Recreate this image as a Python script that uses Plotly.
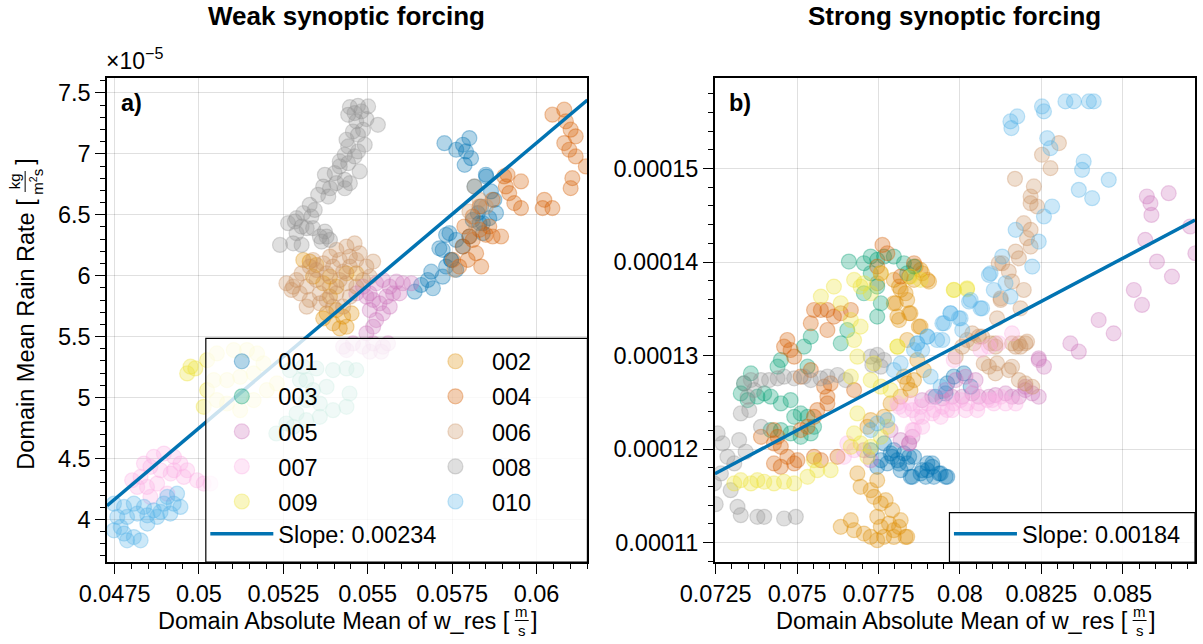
import plotly.graph_objects as go

# ---------------- Weak synoptic forcing ----------------
# w_res: domain absolute mean of w_res [m/s]; rain: domain mean rain rate [1e-5 kg m-2 s-1]
weak_001_w = [0.05727, 0.05762, 0.05782, 0.05801, 0.05806, 0.05787, 0.05791, 0.05639, 0.05658, 0.05678,
              0.05693, 0.05688, 0.05722, 0.05732, 0.05747, 0.05722, 0.05732, 0.05762, 0.05782, 0.05801,
              0.05811, 0.05841, 0.05826, 0.05816, 0.05851, 0.05850, 0.05875, 0.05880, 0.05860, 0.05831,
              0.05841, 0.05836, 0.05865, 0.05742, 0.05712, 0.05747, 0.05762]
weak_001_rain = [7.088, 7.034, 7.075, 7.130, 6.965, 6.910, 7.020, 5.869, 5.924, 5.965,
                 5.897, 6.033, 5.992, 6.075, 6.129, 6.212, 6.335, 6.294, 6.239, 6.321,
                 6.458, 6.431, 6.513, 6.732, 6.814, 6.829, 6.623, 6.514, 6.472, 6.431,
                 6.349, 6.568, 6.692, 6.349, 6.225, 6.130, 6.048]

weak_002_w = [0.05309, 0.05328, 0.05348, 0.05388, 0.05368, 0.05407, 0.05437, 0.05378, 0.05368, 0.05397,
              0.05417, 0.05437, 0.05452, 0.05407, 0.05427, 0.05388, 0.05338, 0.05466]
weak_002_rain = [6.129, 6.116, 6.088, 5.992, 5.938, 5.910, 6.020, 5.691, 5.650, 5.609,
                 5.568, 5.581, 5.691, 5.718, 5.664, 5.828, 5.992, 6.020]

weak_003_w = [0.05269, 0.05309, 0.05348, 0.05397, 0.05437, 0.05466, 0.05299, 0.05338, 0.05378, 0.05318,
              0.05358, 0.05397, 0.05437, 0.05446, 0.05289, 0.05259, 0.05229, 0.05279, 0.05318, 0.05358,
              0.05318]
weak_003_rain = [5.225, 5.253, 5.239, 5.225, 5.239, 5.225, 5.143, 5.061, 5.088, 4.979,
                 4.951, 4.896, 4.924, 5.033, 4.869, 4.787, 4.705, 4.759, 4.814, 4.842,
                 5.143]

weak_004_w = [0.06047, 0.06082, 0.06087, 0.06101, 0.06116, 0.06082, 0.06097, 0.06116, 0.06146, 0.06106,
              0.06101, 0.06023, 0.06018, 0.06047, 0.05954, 0.05914, 0.05904, 0.05919, 0.05934, 0.05954,
              0.05909, 0.05870, 0.05831, 0.05811, 0.05786, 0.05801, 0.05831, 0.05850, 0.05870, 0.05895,
              0.05781, 0.05811, 0.05796, 0.05771, 0.05752, 0.05836, 0.05821, 0.05860]
weak_004_rain = [7.322, 7.363, 7.267, 7.199, 7.144, 7.089, 7.034, 6.979, 6.897, 6.801,
                 6.719, 6.623, 6.555, 6.555, 6.774, 6.829, 6.815, 6.678, 6.596, 6.555,
                 6.733, 6.623, 6.568, 6.486, 6.404, 6.322, 6.377, 6.336, 6.322, 6.322,
                 6.240, 6.294, 6.130, 6.075, 6.130, 6.075, 6.185, 6.404]

weak_005_w = [0.05466, 0.05486, 0.05506, 0.05525, 0.05545, 0.05565, 0.05585, 0.05604, 0.05629, 0.05555,
              0.05535, 0.05516, 0.05496, 0.05575, 0.05594, 0.05506, 0.05525, 0.05516, 0.05496, 0.05545,
              0.05565, 0.05427, 0.05456, 0.05486, 0.05516, 0.05545, 0.05560, 0.05437, 0.05506, 0.05540]
weak_005_rain = [5.855, 5.910, 5.855, 5.938, 5.965, 5.910, 5.951, 5.938, 5.938, 5.828,
                 5.773, 5.801, 5.828, 5.855, 5.855, 5.718, 5.636, 5.581, 5.527, 5.691,
                 5.746, 5.417, 5.444, 5.417, 5.444, 5.417, 5.444, 5.390, 5.376, 5.376]

weak_006_w = [0.05259, 0.05274, 0.05289, 0.05299, 0.05319, 0.05328, 0.05348, 0.05358, 0.05378, 0.05388,
              0.05407, 0.05417, 0.05427, 0.05447, 0.05466, 0.05437, 0.05461, 0.05407, 0.05388, 0.05368,
              0.05348, 0.05328, 0.05378, 0.05417, 0.05476, 0.05496, 0.05516, 0.05486, 0.05466, 0.05447,
              0.05427, 0.05397, 0.05358, 0.05319, 0.05506, 0.05437, 0.05304, 0.05279, 0.05338, 0.05397,
              0.05447, 0.05816, 0.05801, 0.05831, 0.05850, 0.05821, 0.05757]
weak_006_rain = [5.938, 5.883, 5.965, 5.855, 5.910, 5.801, 5.965, 5.855, 5.801, 5.910,
                 5.855, 5.965, 6.033, 6.075, 6.129, 6.239, 6.266, 6.212, 6.157, 6.102,
                 6.047, 6.075, 6.020, 6.129, 6.184, 6.075, 6.116, 5.965, 5.910, 5.828,
                 5.746, 5.746, 5.773, 5.746, 5.992, 5.938, 6.020, 5.910, 6.129, 6.075,
                 6.157, 6.733, 6.527, 6.623, 6.568, 6.404, 6.048]

weak_007_w = [0.04837, 0.04866, 0.04896, 0.04926, 0.04945, 0.04965, 0.04955, 0.04916, 0.04886, 0.04856,
              0.04827, 0.04802, 0.04817, 0.04846, 0.04876, 0.04906, 0.04994, 0.05014, 0.05034, 0.04856,
              0.04926]
weak_007_rain = [4.458, 4.513, 4.540, 4.513, 4.458, 4.403, 4.348, 4.376, 4.403, 4.431,
                 4.348, 4.321, 4.266, 4.266, 4.294, 4.211, 4.321, 4.294, 4.294, 4.184,
                 4.403]

weak_008_w = [0.05447, 0.05471, 0.05501, 0.05481, 0.05461, 0.05442, 0.05496, 0.05530, 0.05466, 0.05486,
              0.05456, 0.05471, 0.05437, 0.05491, 0.05442, 0.05471, 0.05432, 0.05461, 0.05417, 0.05442,
              0.05476, 0.05417, 0.05402, 0.05373, 0.05432, 0.05407, 0.05388, 0.05447, 0.05368, 0.05432,
              0.05353, 0.05383, 0.05328, 0.05343, 0.05309, 0.05333, 0.05289, 0.05264, 0.05284, 0.05304,
              0.05319, 0.05338, 0.05289, 0.05373, 0.05378, 0.05358, 0.05279, 0.05240, 0.05304, 0.05388,
              0.05363]
weak_008_rain = [7.384, 7.395, 7.390, 7.349, 7.335, 7.321, 7.286, 7.239, 7.267, 7.198,
                 7.184, 7.157, 7.116, 7.075, 7.061, 7.020, 6.993, 6.979, 6.938, 6.924,
                 6.856, 6.897, 6.842, 6.828, 6.787, 6.760, 6.718, 6.760, 6.732, 6.718,
                 6.664, 6.650, 6.582, 6.540, 6.513, 6.486, 6.472, 6.431, 6.445, 6.403,
                 6.390, 6.390, 6.349, 6.362, 6.321, 6.321, 6.266, 6.253, 6.253, 6.294,
                 6.280]

weak_009_w = [0.04975, 0.04965, 0.04989, 0.05024, 0.05053, 0.05103, 0.05142, 0.05172, 0.05191, 0.05162,
              0.05122, 0.05083, 0.05044, 0.05024, 0.05053, 0.05014, 0.05083, 0.05122, 0.05162, 0.05201,
              0.05231]
weak_009_rain = [5.253, 5.198, 5.239, 5.307, 5.362, 5.390, 5.390, 5.362, 5.280, 5.198,
                 5.170, 5.143, 5.143, 5.061, 4.979, 4.924, 4.951, 4.896, 4.979, 5.061,
                 5.116]

weak_010_w = [0.04748, 0.04778, 0.04807, 0.04837, 0.04866, 0.04896, 0.04925, 0.04945, 0.04906, 0.04935,
              0.04876, 0.04847, 0.04817, 0.04787, 0.04758, 0.04748, 0.04778, 0.04807, 0.04827, 0.04787,
              0.04847, 0.04768, 0.04886, 0.04915]
weak_010_rain = [4.129, 4.102, 4.129, 4.102, 4.074, 4.129, 4.129, 4.102, 4.184, 4.211,
                 4.020, 4.033, 4.047, 4.020, 4.020, 3.910, 3.883, 3.855, 3.828, 3.828,
                 3.965, 3.937, 4.061, 4.047]

# ---------------- Strong synoptic forcing ----------------
# w_res [m/s]; rain: domain mean rain rate [1e-4 kg m-2 s-1]
strong_001_w = [0.07726, 0.07757, 0.07787, 0.07808, 0.07818, 0.07838, 0.07859, 0.07849, 0.07879, 0.07900,
                0.07920, 0.07941, 0.07961, 0.07900, 0.07767, 0.07797, 0.07777, 0.07828, 0.07746, 0.07915,
                0.07981, 0.08012, 0.08033, 0.07961, 0.07792, 0.07813, 0.07844, 0.07854, 0.07895, 0.07915,
                0.07936, 0.07956, 0.07884, 0.07925, 0.07956]
strong_001_rain = [1.1988, 1.1881, 1.1953, 1.1881, 1.1774, 1.1846, 1.1917, 1.1703, 1.1739, 1.1774,
                   1.1703, 1.1739, 1.1703, 1.1846, 1.2060, 1.1988, 1.1846, 1.1953, 1.1810, 1.1846,
                   1.2774, 1.2809, 1.2667, 1.2702, 1.1917, 1.1845, 1.1917, 1.1703, 1.1703, 1.1810,
                   1.1738, 1.1703, 1.1774, 1.2559, 1.2595]

strong_002_w = [0.07634, 0.07665, 0.07675, 0.07705, 0.07726, 0.07746, 0.07767, 0.07757, 0.07797, 0.07818,
                0.07838, 0.07746, 0.07757, 0.07736, 0.07726, 0.07746, 0.07695, 0.07685, 0.07716, 0.07726,
                0.07767, 0.07787, 0.07818, 0.07848, 0.07838, 0.07859, 0.07828, 0.07889, 0.07869, 0.07879,
                0.07838, 0.07808, 0.07848, 0.07797, 0.07838, 0.07818, 0.07859, 0.07900, 0.07879, 0.07797,
                0.07746, 0.07772, 0.07792, 0.07782, 0.07813, 0.07833, 0.07797, 0.07813, 0.07844, 0.07864,
                0.07884, 0.07905, 0.07833, 0.07803, 0.07844, 0.07813, 0.07874]
strong_002_rain = [1.1168, 1.1239, 1.1132, 1.1096, 1.1061, 1.1025, 1.1061, 1.1168, 1.1132, 1.1239,
                   1.1061, 1.1275, 1.1417, 1.1489, 1.1560, 1.1667, 1.1596, 1.1739, 1.2238, 1.2310,
                   1.2345, 1.2488, 1.2560, 1.2631, 1.2702, 1.2738, 1.2774, 1.2845, 1.2952, 1.3309,
                   1.3166, 1.3416, 1.3452, 1.3559, 1.3594, 1.3702, 1.3809, 1.3809, 1.3916, 1.3809,
                   1.3773, 1.1453, 1.1346, 1.1203, 1.1167, 1.1060, 1.1060, 1.3737, 1.3844, 1.3951,
                   1.3880, 1.3791, 1.3666, 1.3559, 1.3452, 1.3380, 1.3309]

strong_003_w = [0.07659, 0.07705, 0.07726, 0.07746, 0.07767, 0.07797, 0.07828, 0.07726, 0.07705, 0.07746,
                0.07757, 0.07746, 0.07654, 0.07634, 0.07542, 0.07521, 0.07450, 0.07440, 0.07358, 0.07337,
                0.07327, 0.07348, 0.07378, 0.07399, 0.07419, 0.07450, 0.07480, 0.07491, 0.07511, 0.07532,
                0.07552, 0.07542, 0.07511, 0.07480, 0.07450, 0.07419, 0.07532, 0.07859, 0.07838]
strong_003_rain = [1.4005, 1.3987, 1.4058, 1.4023, 1.4058, 1.4058, 1.3987, 1.3880, 1.3666, 1.3737,
                   1.3559, 1.3416, 1.3273, 1.3131, 1.3202, 1.3095, 1.2952, 1.2881, 1.2809, 1.2702,
                   1.2595, 1.2524, 1.2560, 1.2595, 1.2560, 1.2488, 1.2524, 1.2345, 1.2381, 1.2345,
                   1.2238, 1.2167, 1.2131, 1.2167, 1.2203, 1.2203, 1.2881, 1.3951, 1.3880]

strong_004_w = [0.07762, 0.07777, 0.07746, 0.07757, 0.07859, 0.07818, 0.07552, 0.07573, 0.07593, 0.07613,
                0.07634, 0.07665, 0.07542, 0.07593, 0.07470, 0.07480, 0.07460, 0.07491, 0.07511, 0.07542,
                0.07583, 0.07593, 0.07593, 0.07562, 0.07552, 0.07532, 0.07511, 0.07429, 0.07440, 0.07450,
                0.07470, 0.07491, 0.07429, 0.07450, 0.07501, 0.07552, 0.07573, 0.07624, 0.07675, 0.07603,
                0.07429, 0.07389]
strong_004_rain = [1.4183, 1.4094, 1.3951, 1.3880, 1.3987, 1.3844, 1.3487, 1.3487, 1.3487, 1.3416,
                   1.3452, 1.3487, 1.3345, 1.3273, 1.3166, 1.3059, 1.3095, 1.2988, 1.2774, 1.2845,
                   1.2667, 1.2559, 1.2488, 1.2417, 1.2345, 1.2238, 1.2203, 1.2203, 1.2131, 1.2024,
                   1.1917, 1.1846, 1.1846, 1.1810, 1.1881, 1.1917, 1.1881, 1.1917, 1.2631, 1.2702,
                   1.2060, 1.2131]

strong_005_w = [0.08574, 0.08585, 0.08588, 0.08641, 0.08569, 0.08605, 0.08651, 0.08707, 0.08723, 0.08534,
                0.08559, 0.08426, 0.08472, 0.08339, 0.08365, 0.08242, 0.08242, 0.08258, 0.08242, 0.08222,
                0.08201, 0.08181, 0.08160, 0.08140, 0.08109, 0.08089, 0.08058, 0.08038, 0.08007, 0.07976,
                0.07946, 0.07915, 0.07884, 0.07987, 0.08017, 0.08048, 0.07956, 0.07854, 0.07844, 0.08201,
                0.07705, 0.07726, 0.07818, 0.07844, 0.07787]
strong_005_rain = [1.4701, 1.4629, 1.4504, 1.4736, 1.4237, 1.4005, 1.3844, 1.4380, 1.4094, 1.3701,
                   1.3541, 1.3380, 1.3237, 1.3130, 1.3041, 1.2970, 1.2952, 1.2880, 1.2559, 1.2595,
                   1.2631, 1.2559, 1.2559, 1.2595, 1.2577, 1.2559, 1.2559, 1.2595, 1.2559, 1.2559,
                   1.2541, 1.2559, 1.2523, 1.2738, 1.2773, 1.2738, 1.2631, 1.2131, 1.2060, 1.2666,
                   1.1988, 1.1881, 1.2096, 1.2060, 1.2203]

strong_006_w = [0.08304, 0.08252, 0.08278, 0.08169, 0.08227, 0.08217, 0.08217, 0.08237, 0.08196, 0.08217,
                0.08206, 0.08217, 0.08171, 0.08181, 0.08130, 0.08150, 0.08160, 0.08196, 0.08125, 0.08186,
                0.08114, 0.08206, 0.08171, 0.08186, 0.08038, 0.08068, 0.08109, 0.08109, 0.08160, 0.08181,
                0.08201, 0.08089, 0.08150, 0.08181, 0.08201, 0.08222, 0.08109, 0.08058, 0.08007, 0.07987,
                0.08160, 0.08119, 0.08125, 0.08094, 0.08022, 0.08043, 0.08114, 0.08073]
strong_006_rain = [1.5272, 1.5147, 1.5004, 1.4890, 1.4808, 1.4701, 1.4629, 1.4594, 1.4415, 1.4344,
                   1.4255, 1.4165, 1.4112, 1.4040, 1.3987, 1.3898, 1.3791, 1.3701, 1.3612, 1.3505,
                   1.3398, 1.3148, 1.3095, 1.3095, 1.3237, 1.3202, 1.3095, 1.3130, 1.3130, 1.3130,
                   1.3130, 1.2880, 1.2845, 1.2738, 1.2702, 1.2666, 1.2809, 1.3202, 1.3095, 1.2988,
                   1.2880, 1.3987, 1.3594, 1.3131, 1.3166, 1.3131, 1.2916, 1.2916]

strong_007_w = [0.07654, 0.07675, 0.07644, 0.07808, 0.07828, 0.07849, 0.07879, 0.07900, 0.07920, 0.07941,
                0.07961, 0.07981, 0.08002, 0.08022, 0.08053, 0.08084, 0.08104, 0.08125, 0.07859, 0.07869,
                0.08043, 0.07981, 0.08063, 0.07813, 0.07854, 0.07884, 0.07915, 0.07946, 0.07976, 0.08017,
                0.08058, 0.08099, 0.08140, 0.08171, 0.07854, 0.07884, 0.08089, 0.08120, 0.08160]
strong_007_rain = [1.2060, 1.1988, 1.1917, 1.2488, 1.2417, 1.2488, 1.2452, 1.2488, 1.2417, 1.2345,
                   1.2417, 1.2488, 1.2524, 1.2488, 1.2417, 1.2524, 1.2488, 1.2559, 1.2203, 1.2345,
                   1.2631, 1.2952, 1.3059, 1.2452, 1.2416, 1.2345, 1.2381, 1.2452, 1.2416, 1.2416,
                   1.2488, 1.2524, 1.2488, 1.2488, 1.2202, 1.2238, 1.3095, 1.3130, 1.3237]

strong_008_w = [0.07256, 0.07271, 0.07286, 0.07307, 0.07322, 0.07342, 0.07327, 0.07353, 0.07389, 0.07266,
                0.07296, 0.07317, 0.07327, 0.07378, 0.07399, 0.07460, 0.07496, 0.07337, 0.07358, 0.07389,
                0.07414, 0.07440, 0.07460, 0.07491, 0.07521, 0.07542, 0.07572, 0.07593, 0.07624, 0.07649,
                0.07726, 0.07746, 0.07767, 0.07757, 0.07731, 0.07368, 0.07348, 0.07245, 0.07250]
strong_008_rain = [1.2167, 1.2060, 1.1917, 1.1846, 1.2096, 1.1971, 1.2381, 1.2417, 1.2238, 1.1739,
                   1.1560, 1.1382, 1.1293, 1.1275, 1.1275, 1.1257, 1.1275, 1.2702, 1.2738, 1.2738,
                   1.2738, 1.2756, 1.2774, 1.2756, 1.2774, 1.2738, 1.2756, 1.2774, 1.2792, 1.2738,
                   1.2988, 1.3006, 1.2952, 1.2881, 1.2899, 1.2631, 1.2560, 1.1632, 1.1410]

strong_009_w = [0.07307, 0.07327, 0.07358, 0.07378, 0.07399, 0.07429, 0.07460, 0.07491, 0.07532, 0.07562,
                0.07603, 0.07552, 0.07675, 0.07695, 0.07726, 0.07705, 0.07573, 0.07613, 0.07634, 0.07665,
                0.07695, 0.07675, 0.07685, 0.07665, 0.07726, 0.07757, 0.07736, 0.07808, 0.07787, 0.07685,
                0.07675, 0.07695, 0.07726, 0.07757, 0.07777, 0.07981, 0.08022, 0.07665, 0.07716, 0.07848,
                0.07879, 0.07757, 0.07982, 0.08022, 0.07808]
strong_009_rain = [1.1632, 1.1667, 1.1632, 1.1667, 1.1650, 1.1632, 1.1650, 1.1632, 1.1703, 1.1774,
                   1.1774, 1.1881, 1.3809, 1.3737, 1.3666, 1.3773, 1.3630, 1.3737, 1.3559, 1.3380,
                   1.3309, 1.3166, 1.2988, 1.2774, 1.2738, 1.2667, 1.2916, 1.3095, 1.2631, 1.2381,
                   1.2167, 1.2060, 1.2024, 1.2131, 1.2238, 1.3702, 1.3719, 1.2024, 1.1917, 1.3844,
                   1.3809, 1.3880, 1.3701, 1.3708, 1.3095]

strong_010_w = [0.08155, 0.08176, 0.08158, 0.08252, 0.08258, 0.08324, 0.08350, 0.08396, 0.08411, 0.08268,
                0.08278, 0.08380, 0.08375, 0.08457, 0.08365, 0.08406, 0.08283, 0.08258, 0.08171, 0.08242,
                0.08222, 0.08130, 0.08089, 0.08140, 0.08155, 0.08104, 0.08028, 0.08068, 0.07971, 0.07997,
                0.07946, 0.08007, 0.07946, 0.07900, 0.07884, 0.07869, 0.08094, 0.08033, 0.08063, 0.07971,
                0.07951, 0.08002, 0.07900, 0.07869, 0.07930, 0.07910, 0.07941, 0.07859, 0.07818, 0.07797,
                0.07746, 0.07777, 0.07726]
strong_010_rain = [1.5504, 1.5557, 1.5432, 1.5664, 1.5611, 1.5718, 1.5718, 1.5718, 1.5718, 1.5325,
                   1.5218, 1.5075, 1.4986, 1.4879, 1.4772, 1.4683, 1.4594, 1.4487, 1.4344, 1.4219,
                   1.3951, 1.4058, 1.3862, 1.3773, 1.3630, 1.3701, 1.3577, 1.3505, 1.3452, 1.3398,
                   1.3344, 1.3273, 1.3166, 1.3202, 1.3059, 1.3130, 1.3880, 1.3594, 1.3505, 1.3452,
                   1.3345, 1.3398, 1.3202, 1.3131, 1.3166, 1.2774, 1.2667, 1.3059, 1.2916, 1.2845,
                   1.2274, 1.2310, 1.2203]

# Linear fits (slope in kg m-2 s-1 per m/s) anchored at a reference w_res
SLOPE_WEAK = 0.00234
FIT_WEAK_W0, FIT_WEAK_RAIN0 = 0.05, 4.75e-5
SLOPE_STRONG = 0.00184
FIT_STRONG_W0, FIT_STRONG_RAIN0 = 0.08, 1.312e-4

SIMULATIONS = ["001", "002", "003", "004", "005", "006", "007", "008", "009", "010"]

# axis ticks
weak_xticks = [0.0475, 0.05, 0.0525, 0.055, 0.0575, 0.06]
weak_xticklabels = ["0.0475", "0.05", "0.0525", "0.055", "0.0575", "0.06"]
weak_yticks = [4, 4.5, 5, 5.5, 6, 6.5, 7, 7.5]
weak_yticklabels = ["4", "4.5", "5", "5.5", "6", "6.5", "7", "7.5"]
strong_xticks = [0.0725, 0.075, 0.0775, 0.08, 0.0825, 0.085]
strong_xticklabels = ["0.0725", "0.075", "0.0775", "0.08", "0.0825", "0.085"]
strong_yticks = [0.00011, 0.00012, 0.00013, 0.00014, 0.00015]
strong_yticklabels = ["0.00011", "0.00012", "0.00013", "0.00014", "0.00015"]

weak_w = [weak_001_w, weak_002_w, weak_003_w, weak_004_w, weak_005_w,
          weak_006_w, weak_007_w, weak_008_w, weak_009_w, weak_010_w]
weak_rain = [weak_001_rain, weak_002_rain, weak_003_rain, weak_004_rain, weak_005_rain,
             weak_006_rain, weak_007_rain, weak_008_rain, weak_009_rain, weak_010_rain]
strong_w = [strong_001_w, strong_002_w, strong_003_w, strong_004_w, strong_005_w,
            strong_006_w, strong_007_w, strong_008_w, strong_009_w, strong_010_w]
strong_rain = [strong_001_rain, strong_002_rain, strong_003_rain, strong_004_rain, strong_005_rain,
               strong_006_rain, strong_007_rain, strong_008_rain, strong_009_rain, strong_010_rain]

# seaborn "colorblind" palette
PALETTE = ["#0173B2", "#DE8F05", "#029E73", "#D55E00", "#CC78BC",
           "#CA9161", "#FBAFE4", "#949494", "#ECE133", "#56B4E9"]
FIT_COLOR = "#0173B2"
FONT = "Liberation Sans, Arial, Helvetica, sans-serif"
FS = 23.5

# figure geometry (pixels)
W, H = 1203, 644
M_L, M_R, M_T, M_B = 107, 6, 78, 82
PW, PH = W - M_L - M_R, H - M_T - M_B


def px_x(p):
    return (p - M_L) / PW


def px_y(p):
    return (H - M_B - p) / PH


def rgba(hex_color, a):
    h = hex_color.lstrip("#")
    r, g, b = int(h[0:2], 16), int(h[2:4], 16), int(h[4:6], 16)
    return f"rgba({r},{g},{b},{a})"


WEAK_XRANGE = [0.047275, 0.061507]
WEAK_YRANGE = [3.650, 7.623]
STRONG_XRANGE = [0.072475, 0.087218]
STRONG_YRANGE = [1.0792e-4, 1.5968e-4]

fig = go.Figure()

for i, sim in enumerate(SIMULATIONS):
    c = PALETTE[i]
    marker = dict(size=15, color=rgba(c, 0.3), line=dict(color=rgba(c, 0.34), width=1.2))
    fig.add_trace(go.Scatter(
        x=weak_w[i], y=weak_rain[i], mode="markers", name=sim, marker=marker,
        xaxis="x", yaxis="y", legend="legend" if i % 2 == 0 else "legend2",
        legendgroup=sim, hoverinfo="skip"))
for i, sim in enumerate(SIMULATIONS):
    c = PALETTE[i]
    marker = dict(size=15, color=rgba(c, 0.3), line=dict(color=rgba(c, 0.34), width=1.2))
    fig.add_trace(go.Scatter(
        x=strong_w[i], y=[v * 1e-4 for v in strong_rain[i]], mode="markers", name=sim,
        marker=marker, xaxis="x2", yaxis="y2", showlegend=False, hoverinfo="skip"))

# regression lines
fx = WEAK_XRANGE
fy = [(FIT_WEAK_RAIN0 + SLOPE_WEAK * (x - FIT_WEAK_W0)) / 1e-5 for x in fx]
fig.add_trace(go.Scatter(x=fx, y=fy, mode="lines", name=f"Slope: {SLOPE_WEAK:.5f}",
                         line=dict(color=FIT_COLOR, width=3.5), xaxis="x", yaxis="y",
                         legend="legend3", hoverinfo="skip"))
sx = STRONG_XRANGE
sy = [FIT_STRONG_RAIN0 + SLOPE_STRONG * (x - FIT_STRONG_W0) for x in sx]
fig.add_trace(go.Scatter(x=sx, y=sy, mode="lines", name=f"Slope: {SLOPE_STRONG:.5f}",
                         line=dict(color=FIT_COLOR, width=3.5), xaxis="x2", yaxis="y2",
                         legend="legend4", hoverinfo="skip"))

axis_common = dict(
    showline=True, mirror=True, linecolor="black", linewidth=1.5,
    ticks="outside", ticklen=10, tickwidth=1.3, tickcolor="black",
    showgrid=True, gridcolor="rgba(0,0,0,0.12)", gridwidth=1,
    zeroline=False, tickfont=dict(family=FONT, size=FS, color="black"),
)
minor_common = dict(ticks="outside", ticklen=5.5, tickwidth=1.1, tickcolor="black", showgrid=False,
                    tickmode="linear")

dom_left = [0, px_x(588.3)]
dom_right = [px_x(716), 1.0]

legend_common = dict(
    xanchor="left", yanchor="top", bgcolor="rgba(0,0,0,0)", borderwidth=0,
    font=dict(family=FONT, size=FS, color="black"), itemwidth=63, tracegroupgap=1.5,
    orientation="v", itemclick=False, itemdoubleclick=False,
)

fig.update_layout(
    width=W, height=H,
    margin=dict(l=M_L, r=M_R, t=M_T, b=M_B),
    paper_bgcolor="white", plot_bgcolor="white",
    font=dict(family=FONT, size=FS, color="black"),
    xaxis=dict(axis_common, domain=dom_left, range=WEAK_XRANGE, tickmode="array",
               tickvals=weak_xticks, ticktext=weak_xticklabels,
               minor=dict(minor_common, tick0=0.0475, dtick=0.0005)),
    yaxis=dict(axis_common, domain=[0, 1], range=WEAK_YRANGE, tickmode="array",
               tickvals=weak_yticks, ticktext=weak_yticklabels,
               minor=dict(minor_common, tick0=4, dtick=0.1)),
    xaxis2=dict(axis_common, domain=dom_right, range=STRONG_XRANGE, tickmode="array",
                tickvals=strong_xticks, ticktext=strong_xticklabels, anchor="y2",
                minor=dict(minor_common, tick0=0.0725, dtick=0.0005)),
    yaxis2=dict(axis_common, domain=[0, 1], range=STRONG_YRANGE, tickmode="array",
                tickvals=strong_yticks, ticktext=strong_yticklabels, anchor="x2",
                minor=dict(minor_common, tick0=0.00011, dtick=2e-6)),
    legend=dict(legend_common, x=px_x(205.5), y=px_y(339.5)),
    legend2=dict(legend_common, x=px_x(419.5), y=px_y(339.5)),
    legend3=dict(legend_common, x=px_x(205.5), y=px_y(512)),
    legend4=dict(legend_common, x=px_x(950.5), y=px_y(512)),
    showlegend=True,
)

# legend frames (semi-transparent, drawn over the data)
shapes = [
    dict(type="rect", xref="paper", yref="paper", x0=px_x(206), x1=px_x(588.3),
         y0=px_y(562), y1=px_y(338.3), layer="above",
         fillcolor="rgba(255,255,255,0.8)", line=dict(color="black", width=1.2)),
    dict(type="rect", xref="paper", yref="paper", x0=px_x(951), x1=px_x(1197),
         y0=px_y(562), y1=px_y(512.7), layer="above",
         fillcolor="rgba(255,255,255,0.8)", line=dict(color="black", width=1.2)),
    # fraction bars of the unit labels
    dict(type="line", xref="paper", yref="paper", x0=px_x(515.5), x1=px_x(529.5),
         y0=px_y(620.5), y1=px_y(620.5), line=dict(color="black", width=1)),
    dict(type="line", xref="paper", yref="paper", x0=px_x(1134.5), x1=px_x(1148.5),
         y0=px_y(620.5), y1=px_y(620.5), line=dict(color="black", width=1)),
    dict(type="line", xref="paper", yref="paper", x0=px_x(25), x1=px_x(25),
         y0=px_y(171), y1=px_y(192), line=dict(color="black", width=1)),
]
fig.update_layout(shapes=shapes)


def ann(text, x, y, size=FS, xanchor="center", yanchor="middle", angle=0, bold=False):
    return dict(text=f"<b>{text}</b>" if bold else text, xref="paper", yref="paper",
                x=px_x(x), y=px_y(y), xanchor=xanchor, yanchor=yanchor, showarrow=False,
                textangle=angle, borderpad=0,
                font=dict(family=FONT, size=size, color="black"))


annotations = [
    ann("Weak synoptic forcing", 347, 16, size=26, bold=True),
    ann("Strong synoptic forcing", 956, 16, size=26, bold=True),
    ann("a)", 120, 103, bold=True, xanchor="left"),
    ann("b)", 729, 103, bold=True, xanchor="left"),
    ann("×10<sup>−5</sup>", 105, 75, size=23, xanchor="left", yanchor="bottom"),
    # x axis titles
    ann("Domain Absolute Mean of w_res [", 512, 621, xanchor="right"),
    ann("m", 522.5, 611, size=15),
    ann("s", 522.5, 630.5, size=15),
    ann("]", 531, 621, xanchor="left"),
    ann("Domain Absolute Mean of w_res [", 1131, 621, xanchor="right"),
    ann("m", 1141.5, 611, size=15),
    ann("s", 1141.5, 630.5, size=15),
    ann("]", 1150, 621, xanchor="left"),
    # y axis title
    ann("Domain Mean Rain Rate [", 25, 198, xanchor="center", yanchor="top", angle=-90),
    ann("kg", 14.5, 181.5, size=15, angle=-90),
    ann("m<sup>2</sup>s", 36, 181.5, size=15, angle=-90),
    ann("]", 25, 166, xanchor="center", yanchor="bottom", angle=-90),
]
fig.update_layout(annotations=annotations)

fig.write_html("out.html")
